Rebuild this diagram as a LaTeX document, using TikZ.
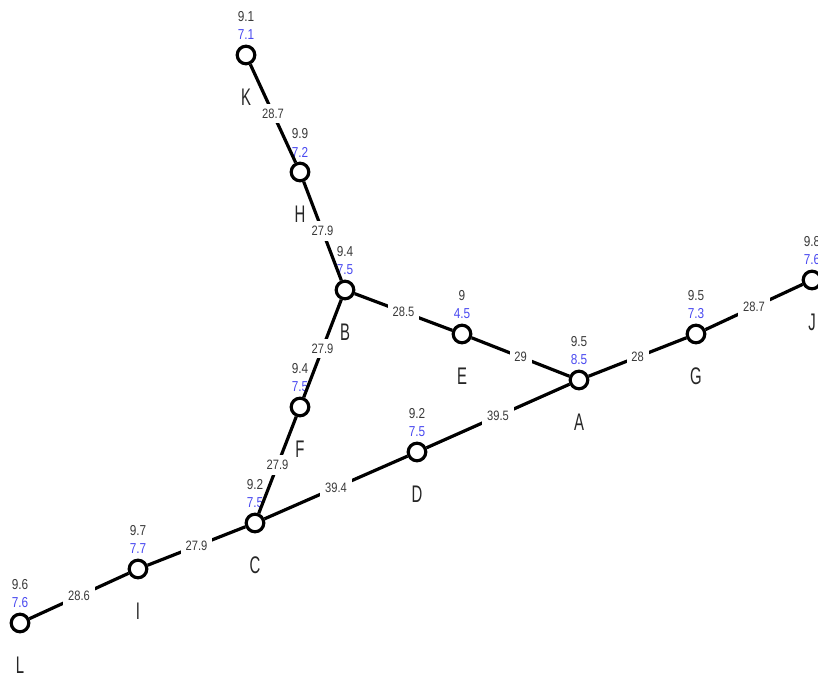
\documentclass[tikz,border=0pt]{standalone}
\usepackage{fontspec}
\setmainfont{Liberation Sans}
\newfontfamily\numfont[FakeStretch=0.82]{Liberation Sans}
\newfontfamily\tagfont[FakeStretch=0.62]{Liberation Sans}
\usepackage{tikz}
\usetikzlibrary{positioning}
\definecolor{valgrey}{HTML}{3A3A3A}
\definecolor{valblue}{HTML}{4A4AF0}

\tikzset{
  stn/.style={circle, draw=black, fill=white, line width=1.6pt, minimum size=8.8pt, inner sep=0pt},
  pipe/.style={line width=1.6pt, black},
  head/.style={font=\numfont\fontsize{7.2}{8}\selectfont, text=valgrey, inner sep=0pt},
  press/.style={font=\numfont\fontsize{7.2}{8}\selectfont, text=valblue, inner sep=0pt},
  tag/.style={font=\tagfont\fontsize{12}{13}\selectfont, text=black!85, inner sep=0pt},
  len/.style={font=\numfont\fontsize{6.8}{8}\selectfont, text=valgrey, fill=white, inner sep=2.4pt}
}

\begin{document}
\begin{tikzpicture}[x=0.5pt, y=-0.5pt]
    \useasboundingbox (0,0) rectangle (818,673);

    % Stations: name / x / y / upper value / lower value
    \foreach \n/\x/\y/\h/\p in {K/246/55/9.1/7.1, H/300/172/9.9/7.2, B/345/290/9.4/7.5,
        E/462/334/9/4.5, A/579/380/9.5/8.5, G/696/334/9.5/7.3, J/812/280/9.8/7.6,
        F/300/407/9.4/7.5, D/417/452/9.2/7.5, C/255/523/9.2/7.5, I/138/569/9.7/7.7,
        L/20/623/9.6/7.6} {
      \node[stn] (\n) at (\x,\y) {};
      \node[head] (\n-h) at (\x,\y-38) {\h};
      \node[press] (\n-p) at (\x,\y-20) {\p};
      \node[tag] (\n-t) at (\x,\y+42) {\n};
    }

    % Upper branch
    \draw[pipe] (K) -- node[len] (kh) {28.7} (H);
    \draw[pipe] (H) -- node[len] (hb) {27.9} (B);
    \draw[pipe] (B) -- node[len] (be) {28.5} (E);
    \draw[pipe] (E) -- node[len] (ea) {29} (A);
    \draw[pipe] (A) -- node[len] (ag) {28} (G);
    \draw[pipe] (G) -- node[len] (gj) {28.7} (J);

    % Lower branch
    \draw[pipe] (B) -- node[len] (bf) {27.9} (F);
    \draw[pipe] (F) -- node[len] (fc) {27.9} (C);
    \draw[pipe] (A) -- node[len] (ad) {39.5} (D);
    \draw[pipe] (D) -- node[len] (dc) {39.4} (C);
    \draw[pipe] (C) -- node[len] (ci) {27.9} (I);
    \draw[pipe] (I) -- node[len] (il) {28.6} (L);
\end{tikzpicture}
\end{document}
